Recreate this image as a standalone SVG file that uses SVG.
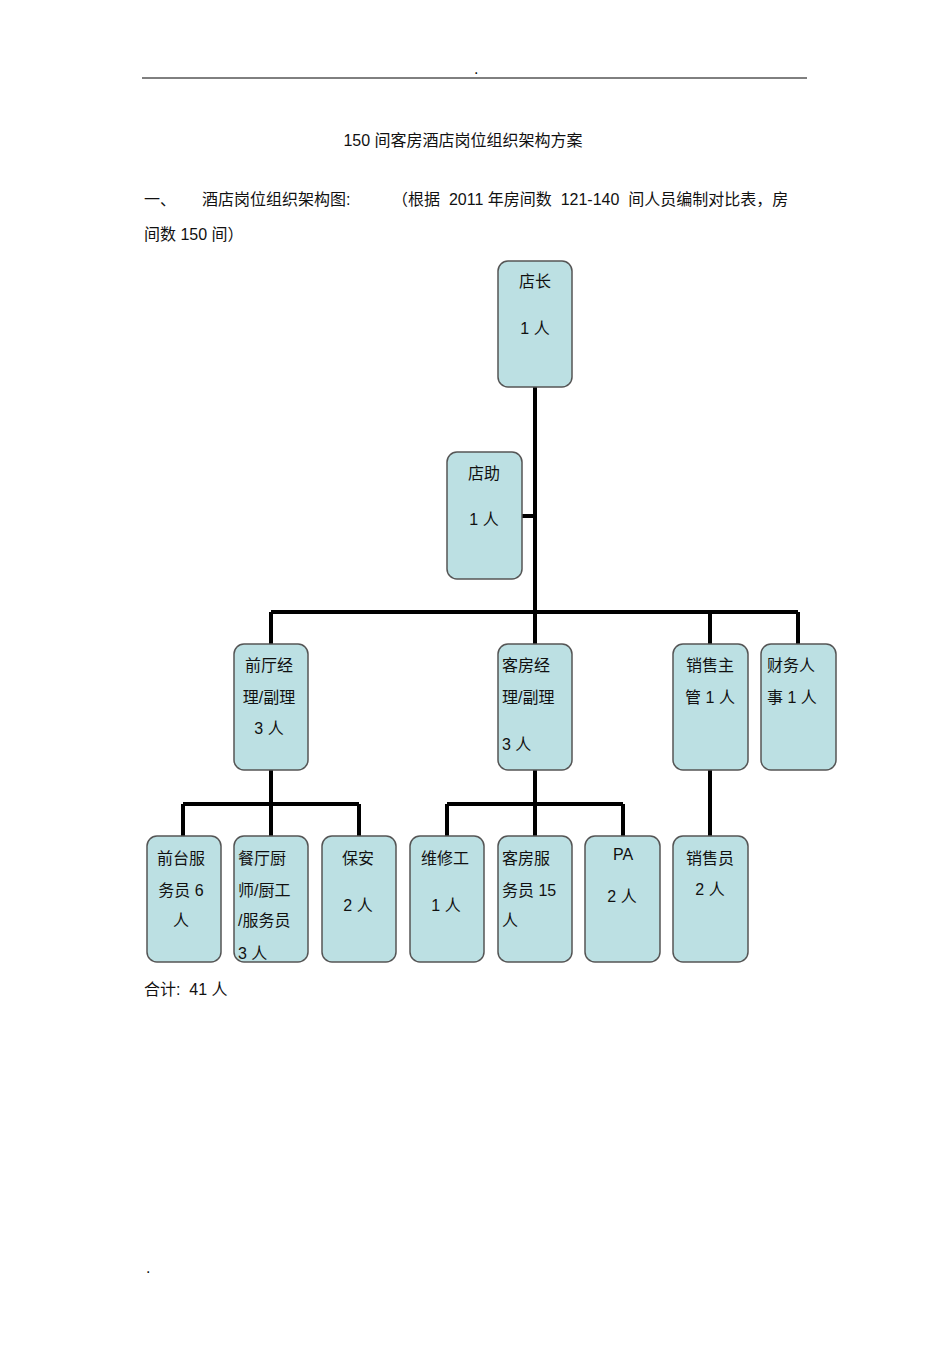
<svg xmlns="http://www.w3.org/2000/svg" width="950" height="1345" viewBox="0 0 950 1345">
<style>
text{font-family:"Liberation Sans","Noto Sans CJK SC",sans-serif;font-size:16px;fill:#111}
.n rect{fill:#bce0e3;stroke:#555;stroke-width:1.5}
.c{stroke:#000;stroke-width:4;fill:none}
</style>
<rect width="950" height="1345" fill="#fff"/>
<line x1="142" y1="78" x2="807" y2="78" stroke="#000" stroke-width="1"/>
<text x="474" y="74" font-size="8">.</text>
<text x="146" y="1273" font-size="8">.</text>
<text x="463" y="146" font-size="25" text-anchor="middle">150 间客房酒店岗位组织架构方案</text>
<text x="144" y="205" font-size="15">一、</text>
<text x="202" y="205" font-size="15">酒店岗位组织架构图:</text>
<text x="392" y="205" font-size="15" xml:space="preserve">（根据  2011 年房间数  121-140  间人员编制对比表，房</text>
<text x="144" y="240" font-size="15">间数 150 间）</text>
<g class="c">
<path d="M535 387V612M522 516H535M271 612H798M271 612V644M535 612V644M710 612V644M798 612V644"/>
<path d="M271 770V804M183 804H359M183 804V836M271 804V836M359 804V836"/>
<path d="M535 770V804M447 804H623M447 804V836M535 804V836M623 804V836M710 770V836"/>
</g>
<g class="n" id="n1"><rect x="498" y="261" width="74" height="126" rx="10"/><text x="535" y="287" text-anchor="middle">店长</text><text x="535" y="334" text-anchor="middle">1 人</text></g>
<g class="n" id="n2"><rect x="447" y="452" width="75" height="127" rx="10"/><text x="484" y="479" text-anchor="middle">店助</text><text x="484" y="525" text-anchor="middle">1 人</text></g>
<g class="n" id="n3"><rect x="234" y="644" width="74" height="126" rx="10"/><text x="269" y="671" text-anchor="middle">前厅经</text><text x="269" y="703" text-anchor="middle">理/副理</text><text x="269" y="734" text-anchor="middle">3 人</text></g>
<g class="n" id="n4"><rect x="498" y="644" width="74" height="126" rx="10"/><text x="502" y="671">客房经</text><text x="502" y="703">理/副理</text><text x="502" y="750">3 人</text></g>
<g class="n" id="n5"><rect x="673" y="644" width="75" height="126" rx="10"/><text x="710" y="671" text-anchor="middle">销售主</text><text x="710" y="703" text-anchor="middle">管 1 人</text></g>
<g class="n" id="n6"><rect x="761" y="644" width="75" height="126" rx="10"/><text x="767" y="671">财务人</text><text x="767" y="703">事 1 人</text></g>
<g class="n" id="n7"><rect x="147" y="836" width="74" height="126" rx="10"/><text x="181" y="864" text-anchor="middle">前台服</text><text x="181" y="896" text-anchor="middle">务员 6</text><text x="181" y="926" text-anchor="middle">人</text></g>
<g class="n" id="n8"><rect x="234" y="836" width="74" height="126" rx="10"/><text x="238" y="864">餐厅厨</text><text x="238" y="896">师/厨工</text><text x="238" y="926">/服务员</text><text x="238" y="959">3 人</text></g>
<g class="n" id="n9"><rect x="322" y="836" width="74" height="126" rx="10"/><text x="358" y="864" text-anchor="middle">保安</text><text x="358" y="911" text-anchor="middle">2 人</text></g>
<g class="n" id="n10"><rect x="410" y="836" width="74" height="126" rx="10"/><text x="445" y="864" text-anchor="middle">维修工</text><text x="446" y="911" text-anchor="middle">1 人</text></g>
<g class="n" id="n11"><rect x="498" y="836" width="74" height="126" rx="10"/><text x="502" y="864">客房服</text><text x="502" y="896">务员 15</text><text x="502" y="926">人</text></g>
<g class="n" id="n12"><rect x="585" y="836" width="75" height="126" rx="10"/><text x="623" y="860" text-anchor="middle">PA</text><text x="622" y="902" text-anchor="middle">2 人</text></g>
<g class="n" id="n13"><rect x="673" y="836" width="75" height="126" rx="10"/><text x="710" y="864" text-anchor="middle">销售员</text><text x="710" y="895" text-anchor="middle">2 人</text></g>
<text x="144" y="995" font-size="15" xml:space="preserve">合计:  41 人</text>
</svg>
